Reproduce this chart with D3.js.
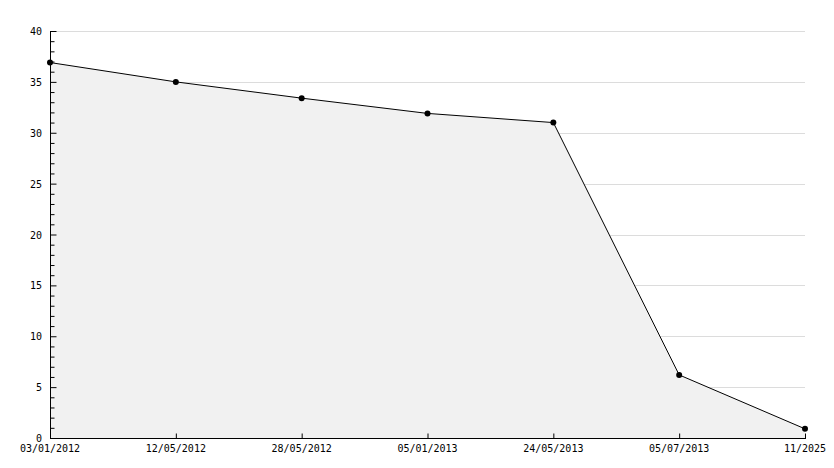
<!DOCTYPE html>
<html><head><meta charset="utf-8">
<script src="https://cdn.jsdelivr.net/npm/d3@7"></script>
<style>body{margin:0;background:#fff}svg{display:block}</style>
</head><body>
<script>
const categories = ["03/01/2012","12/05/2012","28/05/2012","05/01/2013","24/05/2013","05/07/2013","11/2025"];
const values = [36.9, 35.0, 33.4, 31.9, 31.0, 6.2, 0.9];
const yTicks = [0,5,10,15,20,25,30,35,40];

const W=834,H=468, L=50, R=805, T=31, B=438;
const svg=d3.select("body").append("svg").attr("width",W).attr("height",H);
const x=d3.scalePoint().domain(categories).range([L,R]);
const y=d3.scaleLinear().domain([0,40]).range([B,T]);
const font="'DejaVu Sans Mono', monospace";

// grid
svg.append("g").selectAll("line").data(yTicks.filter(d=>d>0)).join("line")
  .attr("x1",L).attr("x2",R).attr("y1",d=>Math.round(y(d))+0.5).attr("y2",d=>Math.round(y(d))+0.5)
  .attr("stroke","#dcdcdc");

// area
svg.append("path").datum(values)
  .attr("d",d3.area().x((d,i)=>x(categories[i])).y0(B).y1(d=>y(d)))
  .attr("fill","#f1f1f1");
// line
svg.append("path").datum(values)
  .attr("d",d3.line().x((d,i)=>x(categories[i])).y(d=>y(d)))
  .attr("fill","none").attr("stroke","#000").attr("stroke-width",1);

// y axis
const ya=d3.axisRight(y).tickValues(d3.range(0,41,1)).tickSize(4).tickFormat("");
const gy=svg.append("g").attr("transform",`translate(${L+0.5},0)`).call(ya);
gy.select(".domain").remove();
gy.selectAll(".tick line").attr("x2",d=>d%5===0?6:4);
svg.append("g").selectAll("text").data(yTicks).join("text")
  .attr("x",42).attr("y",d=>y(d)+4).attr("text-anchor","end")
  .attr("font-family",font).attr("font-size",10).attr("fill","#000").text(d=>d);

// x axis
const xa=d3.axisTop(x).tickSize(5).tickFormat("");
const gx=svg.append("g").attr("transform",`translate(0,${B+0.5})`).call(xa);
gx.select(".domain").remove();
svg.append("g").selectAll("text").data(categories).join("text")
  .attr("x",d=>x(d)).attr("y",452).attr("text-anchor","middle")
  .attr("font-family",font).attr("font-size",10).attr("fill","#000").text(d=>d);

svg.append("line").attr("x1",L+0.5).attr("x2",L+0.5).attr("y1",T).attr("y2",B+1).attr("stroke","#000");
svg.append("line").attr("x1",L).attr("x2",R+1).attr("y1",B+0.5).attr("y2",B+0.5).attr("stroke","#000");

// markers
svg.append("g").selectAll("circle").data(values).join("circle")
  .attr("cx",(d,i)=>x(categories[i])).attr("cy",d=>y(d)).attr("r",3).attr("fill","#000");
</script>
</body></html>
